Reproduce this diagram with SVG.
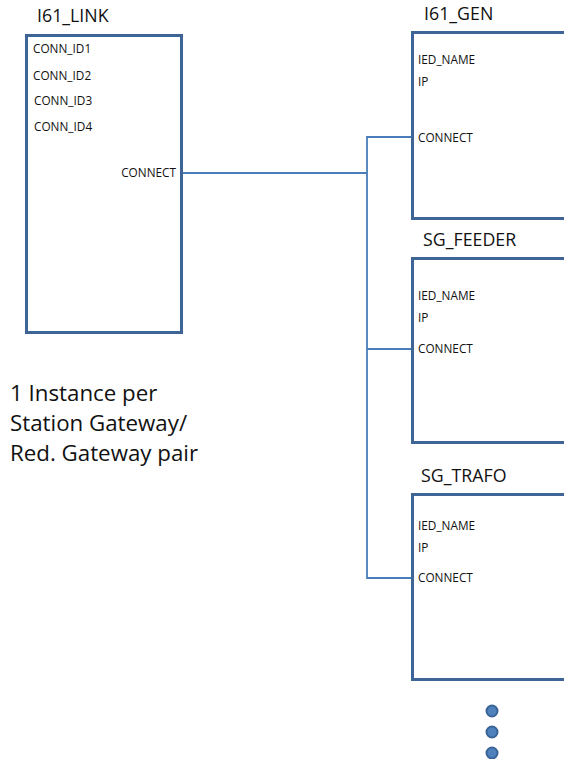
<svg xmlns="http://www.w3.org/2000/svg" width="564" height="759" viewBox="0 0 564 759">
<style>
.box{fill:#fff;stroke:#3e6596;stroke-width:3}
.title{font-family:"Open Sans","Liberation Sans",sans-serif;font-size:17.8px;fill:#111}
.lbl{font-family:"Open Sans","Liberation Sans",sans-serif;font-size:11.8px;fill:#111}
.note{font-family:"Open Sans","Liberation Sans",sans-serif;font-size:22.3px;fill:#111}
.wire{fill:none;stroke:#4a7ebb;stroke-width:1.8}
.dot{fill:#4f81bd;stroke:#3a6496;stroke-width:2}
</style>
<rect width="564" height="759" fill="#fff"/>
<g id="connectors">
<path class="wire" d="M182 173 H367"/>
<path class="wire" d="M412 137 H367 V578 H412"/>
<path class="wire" d="M367 349 H412"/>
</g>
<g id="i61_link">
<text class="title" x="37" y="22">I61_LINK</text>
<rect class="box" x="26.5" y="35.5" width="155" height="297"/>
<text class="lbl" x="33" y="53">CONN_ID1</text>
<text class="lbl" x="33" y="80">CONN_ID2</text>
<text class="lbl" x="34" y="105">CONN_ID3</text>
<text class="lbl" x="34" y="131">CONN_ID4</text>
<text class="lbl" x="176" y="177" text-anchor="end">CONNECT</text>
</g>
<g id="i61_gen">
<text class="title" x="424" y="20">I61_GEN</text>
<rect class="box" x="412.5" y="32.5" width="200" height="186"/>
<text class="lbl" x="418" y="64">IED_NAME</text>
<text class="lbl" x="418" y="86">IP</text>
<text class="lbl" x="418" y="142">CONNECT</text>
</g>
<g id="sg_feeder">
<text class="title" x="423" y="246">SG_FEEDER</text>
<rect class="box" x="412.5" y="258.5" width="200" height="184"/>
<text class="lbl" x="418" y="300">IED_NAME</text>
<text class="lbl" x="418" y="322">IP</text>
<text class="lbl" x="418" y="353">CONNECT</text>
</g>
<g id="sg_trafo">
<text class="title" x="421" y="482">SG_TRAFO</text>
<rect class="box" x="412.5" y="494.5" width="200" height="185"/>
<text class="lbl" x="418" y="530">IED_NAME</text>
<text class="lbl" x="418" y="552">IP</text>
<text class="lbl" x="418" y="582">CONNECT</text>
</g>
<g id="note">
<text class="note" x="10" y="401">1 Instance per</text>
<text class="note" x="10" y="431">Station Gateway/</text>
<text class="note" x="10" y="461">Red. Gateway pair</text>
</g>
<g id="more">
<circle class="dot" cx="492" cy="711" r="5.5"/>
<circle class="dot" cx="492" cy="732" r="5.5"/>
<circle class="dot" cx="492" cy="753" r="5.5"/>
</g>
</svg>
